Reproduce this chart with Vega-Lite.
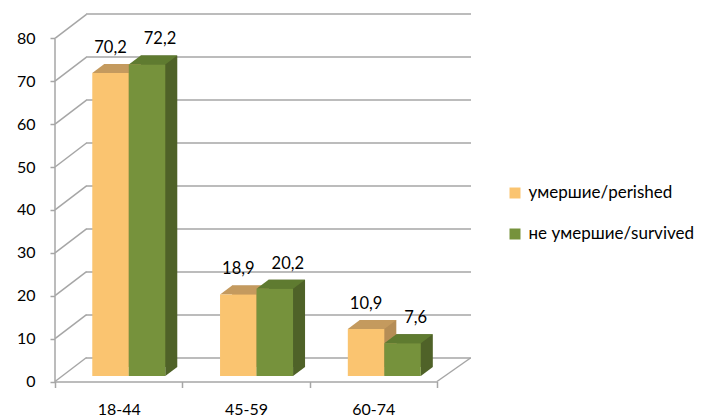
{
  "$schema": "https://vega.github.io/schema/vega-lite/v6.json",
  "width": 385,
  "height": 344,
  "autosize": {"type": "none"},
  "padding": {"left": 86, "top": 14, "right": 245, "bottom": 60},
  "background": "white",
  "datasets": {
    "shares": [
      {"age": "18-44", "group": "умершие/perished", "value": 70.2},
      {"age": "18-44", "group": "не умершие/survived", "value": 72.2},
      {"age": "45-59", "group": "умершие/perished", "value": 18.9},
      {"age": "45-59", "group": "не умершие/survived", "value": 20.2},
      {"age": "60-74", "group": "умершие/perished", "value": 10.9},
      {"age": "60-74", "group": "не умершие/survived", "value": 7.6}
    ],
    "ticks": [
      {"v": 0}, {"v": 10}, {"v": 20}, {"v": 30}, {"v": 40},
      {"v": 50}, {"v": 60}, {"v": 70}, {"v": 80}
    ]
  },
  "resolve": {"scale": {"x": "independent", "y": "independent", "xOffset": "independent", "color": "independent"}},
  "layer": [
    {
      "description": "back wall gridlines",
      "data": {"name": "ticks"},
      "mark": {"type": "rule", "stroke": "#a6a6a6", "strokeWidth": 1.5},
      "encoding": {
        "y": {"field": "v", "type": "quantitative", "scale": {"domain": [0, 80], "range": [344, 0], "nice": false, "zero": false}, "axis": null}
      }
    },
    {
      "description": "side wall edges from the front axis to the back wall, carrying both front axes",
      "data": {"name": "ticks"},
      "mark": {"type": "point", "shape": "M0 0 L31.5 -24", "size": 4, "filled": false, "stroke": "#a6a6a6", "strokeWidth": 1.5, "opacity": 1},
      "encoding": {
        "x": {
          "datum": "18-44", "type": "nominal", "bandPosition": 0,
          "scale": {"type": "band", "domain": ["18-44", "45-59", "60-74"], "range": [-31, 351], "paddingInner": 0, "paddingOuter": 0},
          "axis": {"orient": "bottom", "offset": 23.5, "tickBand": "extent", "title": null, "labelAngle": 0,
                   "domainColor": "#a6a6a6", "domainWidth": 1.5, "tickColor": "#a6a6a6", "tickWidth": 1.5, "tickSize": 6,
                   "labelPadding": 14, "labelFontSize": 16, "labelFont": "Lato", "labelColor": "#000000"}
        },
        "y": {
          "field": "v", "type": "quantitative",
          "scale": {"domain": [0, 80], "range": [367.5, 24.3], "nice": false, "zero": false},
          "axis": {"orient": "left", "offset": 31.5, "values": [0, 10, 20, 30, 40, 50, 60, 70, 80], "title": null, "grid": false,
                   "domainColor": "#a6a6a6", "domainWidth": 1.5, "tickColor": "#a6a6a6", "tickWidth": 1.5, "tickSize": 4.5,
                   "labelPadding": 15, "labelFontSize": 16, "labelFont": "Lato", "labelColor": "#000000"}
        }
      }
    },
    {
      "description": "right floor edge",
      "data": {"name": "ticks"},
      "transform": [{"filter": "datum.v == 0"}],
      "mark": {"type": "point", "shape": "M0 0 L33.5 -23.5", "size": 4, "filled": false, "stroke": "#a6a6a6", "strokeWidth": 1.5, "opacity": 1},
      "encoding": {
        "x": {"datum": "60-74", "type": "nominal", "bandPosition": 1,
              "scale": {"type": "band", "domain": ["18-44", "45-59", "60-74"], "range": [-31, 351], "paddingInner": 0, "paddingOuter": 0}, "axis": null},
        "y": {"field": "v", "type": "quantitative", "scale": {"domain": [0, 80], "range": [367.5, 24.3], "nice": false, "zero": false}, "axis": null}
      }
    },
    {
      "description": "box depth: back faces shifted up and right, their visible strip forms the side faces",
      "data": {"name": "shares"},
      "mark": {"type": "bar", "yOffset": -9, "y2Offset": -9},
      "encoding": {
        "x": {"field": "age", "type": "nominal", "sort": null, "scale": {"type": "band", "domain": ["18-44", "45-59", "60-74"], "range": [-21.1, 362.2], "paddingInner": 0.4286, "paddingOuter": 0.2143}, "axis": null},
        "xOffset": {"field": "group", "type": "nominal", "sort": null, "scale": {"type": "band", "domain": ["умершие/perished", "не умершие/survived"], "range": [12, 85], "paddingInner": 0, "paddingOuter": 0}},
        "y": {"field": "value", "type": "quantitative", "scale": {"domain": [0, 80], "range": [362, 16.8], "nice": false, "zero": false}, "axis": null},
        "y2": {"datum": 0},
        "color": {"field": "group", "type": "nominal", "scale": {"domain": ["умершие/perished", "не умершие/survived"], "range": ["#b58d56", "#4f6228"]}, "legend": null}
      }
    },
    {
      "description": "lower slanted corner of each side face",
      "data": {"name": "shares"},
      "mark": {"type": "point", "shape": "M18.25 -9 L30.25 -9 L18.25 0 Z", "size": 4, "filled": true, "opacity": 1, "strokeWidth": 0},
      "encoding": {
        "x": {"field": "age", "type": "nominal", "sort": null, "scale": {"type": "band", "domain": ["18-44", "45-59", "60-74"], "range": [-21.1, 362.2], "paddingInner": 0.4286, "paddingOuter": 0.2143}, "axis": null},
        "xOffset": {"field": "group", "type": "nominal", "sort": null, "scale": {"type": "band", "domain": ["умершие/perished", "не умершие/survived"], "range": [0, 73], "paddingInner": 0, "paddingOuter": 0}},
        "y": {"datum": 0, "type": "quantitative", "scale": {"domain": [0, 80], "range": [362, 16.8], "nice": false, "zero": false}, "axis": null},
        "color": {"field": "group", "type": "nominal", "scale": {"domain": ["умершие/perished", "не умершие/survived"], "range": ["#b58d56", "#4f6228"]}, "legend": null}
      }
    },
    {
      "description": "top faces",
      "data": {"name": "shares"},
      "mark": {"type": "point", "shape": "M-18.25 0 L18.25 0 L30.25 -9 L-6.25 -9 Z", "size": 4, "filled": true, "opacity": 1, "strokeWidth": 0},
      "encoding": {
        "x": {"field": "age", "type": "nominal", "sort": null, "scale": {"type": "band", "domain": ["18-44", "45-59", "60-74"], "range": [-21.1, 362.2], "paddingInner": 0.4286, "paddingOuter": 0.2143}, "axis": null},
        "xOffset": {"field": "group", "type": "nominal", "sort": null, "scale": {"type": "band", "domain": ["умершие/perished", "не умершие/survived"], "range": [0, 73], "paddingInner": 0, "paddingOuter": 0}},
        "y": {"field": "value", "type": "quantitative", "scale": {"domain": [0, 80], "range": [362, 16.8], "nice": false, "zero": false}, "axis": null},
        "color": {"field": "group", "type": "nominal", "scale": {"domain": ["умершие/perished", "не умершие/survived"], "range": ["#c49a5e", "#5f7b30"]}, "legend": null}
      }
    },
    {
      "description": "front faces",
      "data": {"name": "shares"},
      "mark": {"type": "bar"},
      "encoding": {
        "x": {"field": "age", "type": "nominal", "sort": null, "scale": {"type": "band", "domain": ["18-44", "45-59", "60-74"], "range": [-21.1, 362.2], "paddingInner": 0.4286, "paddingOuter": 0.2143}, "axis": null},
        "xOffset": {"field": "group", "type": "nominal", "sort": null, "scale": {"type": "band", "domain": ["умершие/perished", "не умершие/survived"], "range": [0, 73], "paddingInner": 0, "paddingOuter": 0}},
        "y": {"field": "value", "type": "quantitative", "scale": {"domain": [0, 80], "range": [362, 16.8], "nice": false, "zero": false}, "axis": null},
        "y2": {"datum": 0},
        "color": {
          "field": "group", "type": "nominal",
          "scale": {"domain": ["умершие/perished", "не умершие/survived"], "range": ["#fac470", "#76923c"]},
          "legend": {"title": null, "orient": "none", "legendX": 420.5, "legendY": 170.5, "padding": 0,
                     "symbolType": "square", "symbolSize": 121, "symbolStrokeWidth": 0, "symbolOpacity": 1,
                     "labelFontSize": 17, "labelFont": "Lato", "labelColor": "#000000", "labelOffset": 5, "labelLimit": 0, "rowPadding": 23}
        }
      }
    },
    {
      "description": "value labels",
      "data": {"name": "shares"},
      "mark": {"type": "text", "dy": -20, "baseline": "alphabetic", "fontSize": 16.5, "font": "Lato", "color": "#000000"},
      "encoding": {
        "x": {"field": "age", "type": "nominal", "sort": null, "scale": {"type": "band", "domain": ["18-44", "45-59", "60-74"], "range": [-21.1, 362.2], "paddingInner": 0.4286, "paddingOuter": 0.2143}, "axis": null},
        "xOffset": {"field": "group", "type": "nominal", "sort": null, "scale": {"type": "band", "domain": ["умершие/perished", "не умершие/survived"], "range": [-6.5, 92.5], "paddingInner": 0, "paddingOuter": 0}},
        "y": {"field": "value", "type": "quantitative", "scale": {"domain": [0, 80], "range": [362, 16.8], "nice": false, "zero": false}, "axis": null},
        "text": {"field": "value", "type": "quantitative", "format": ".1f"}
      }
    }
  ],
  "config": {
    "view": {"stroke": null},
    "font": "Lato",
    "locale": {"number": {"decimal": ",", "thousands": " ", "grouping": [3], "currency": ["", ""]}}
  }
}
